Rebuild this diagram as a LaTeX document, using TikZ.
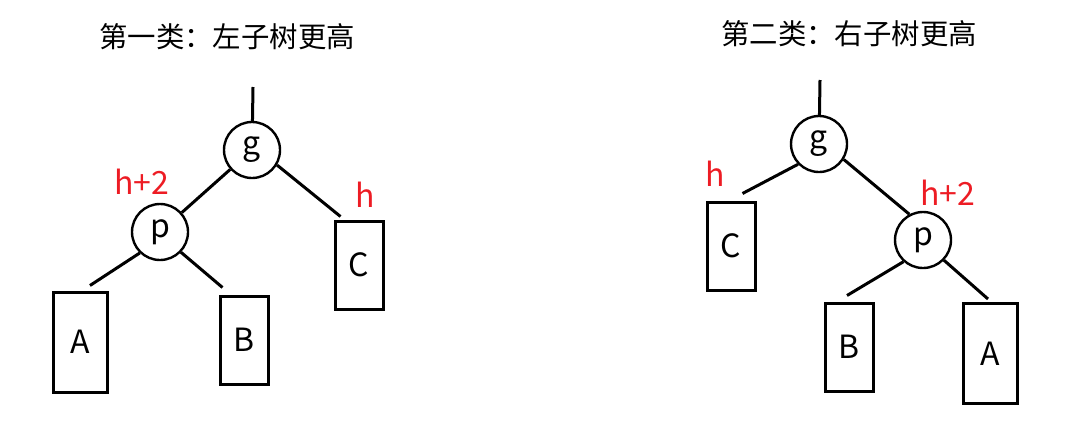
\documentclass[tikz,border=0pt]{standalone}
\usepackage{fontspec}
\setmainfont{Noto Sans CJK SC}
\usepackage{tikz}
\usetikzlibrary{calc}
\definecolor{hred}{RGB}{237,28,36}
\tikzstyle{treenode} = [circle, draw, line width=1.2pt, minimum size=28pt, inner sep=0pt, font=\fontsize{16}{16}\selectfont]
\tikzstyle{tallbox} = [rectangle, draw, line width=1.5pt, minimum width=27pt, minimum height=50pt, inner sep=0pt, font=\fontsize{16}{16}\selectfont]
\tikzstyle{shortbox} = [rectangle, draw, line width=1.5pt, minimum width=24pt, minimum height=44pt, inner sep=0pt, font=\fontsize{16}{16}\selectfont]
\tikzstyle{height} = [text=hred, inner sep=0pt, font=\fontsize{16}{16}\selectfont]
\tikzstyle{title} = [inner sep=0pt, font=\fontsize{14.2}{14.2}\selectfont]
\tikzstyle{branch} = [line width=1.5pt]

\begin{document}
\begin{tikzpicture}[x=0.5pt, y=-0.5pt, node distance=40pt]
            \useasboundingbox (0,0) rectangle (1079,434);
            % left: first kind
            \node (title1) [title] at (227,37) {第一类：左子树更高};
            \coordinate (root1) at (253,87);
            \node (g1) [treenode] at (252,150) {g};
            \node (p1) [treenode, below of = g1, xshift=-46pt, yshift=-1pt] {p};
            \node (C1) [shortbox, below of = g1, xshift=53.5pt, yshift=-17.5pt] {C};
            \node (A1) [tallbox, below of = p1, xshift=-40pt, yshift=-15pt] {A};
            \node (B1) [shortbox, below of = p1, xshift=42pt, yshift=-14pt] {B};
            \node (hp1) [height, above of = p1, xshift=-9pt, yshift=-15pt] {h+2};
            \node (hc1) [height, above of = C1, xshift=3pt, yshift=-5pt] {h};
            \draw [branch] (root1) -- (g1);
            \draw [branch] (g1) -- (p1);
            \draw [branch] (g1.-31) -- ($(C1.north west)+(7,-3)$);
            \draw [branch] (p1.-134) -- ($(A1.north)+(10,-5)$);
            \draw [branch] (p1.-44) -- ($(B1.north west)+(4,-7)$);
            % right: second kind
            \node (title2) [title] at (849,34) {第二类：右子树更高};
            \coordinate (root2) at (820,80);
            \node (g2) [treenode] at (819,144) {g};
            \node (C2) [shortbox, below of = g2, xshift=-44pt, yshift=-11pt] {C};
            \node (p2) [treenode, below of = g2, xshift=52pt, yshift=-8pt] {p};
            \node (B2) [shortbox, below of = p2, xshift=-37pt, yshift=-13.5pt] {B};
            \node (A2) [tallbox, below of = p2, xshift=33.5pt, yshift=-16.75pt] {A};
            \node (hc2) [height, above of = C2, xshift=-8pt, yshift=-4pt] {h};
            \node (hp2) [height, above of = p2, xshift=12.5pt, yshift=-16.5pt] {h+2};
            \draw [branch] (root2) -- (g2);
            \draw [branch] (g2.-136) -- ($(C2.north)+(11.5,-7)$);
            \draw [branch] (g2.-32) -- (p2.118);
            \draw [branch] (p2.-132) -- ($(B2.north)+(-2,-6)$);
            \draw [branch] (p2.-44) -- ($(A2.north)+(-2,-3)$);
        \end{tikzpicture}
\end{document}
